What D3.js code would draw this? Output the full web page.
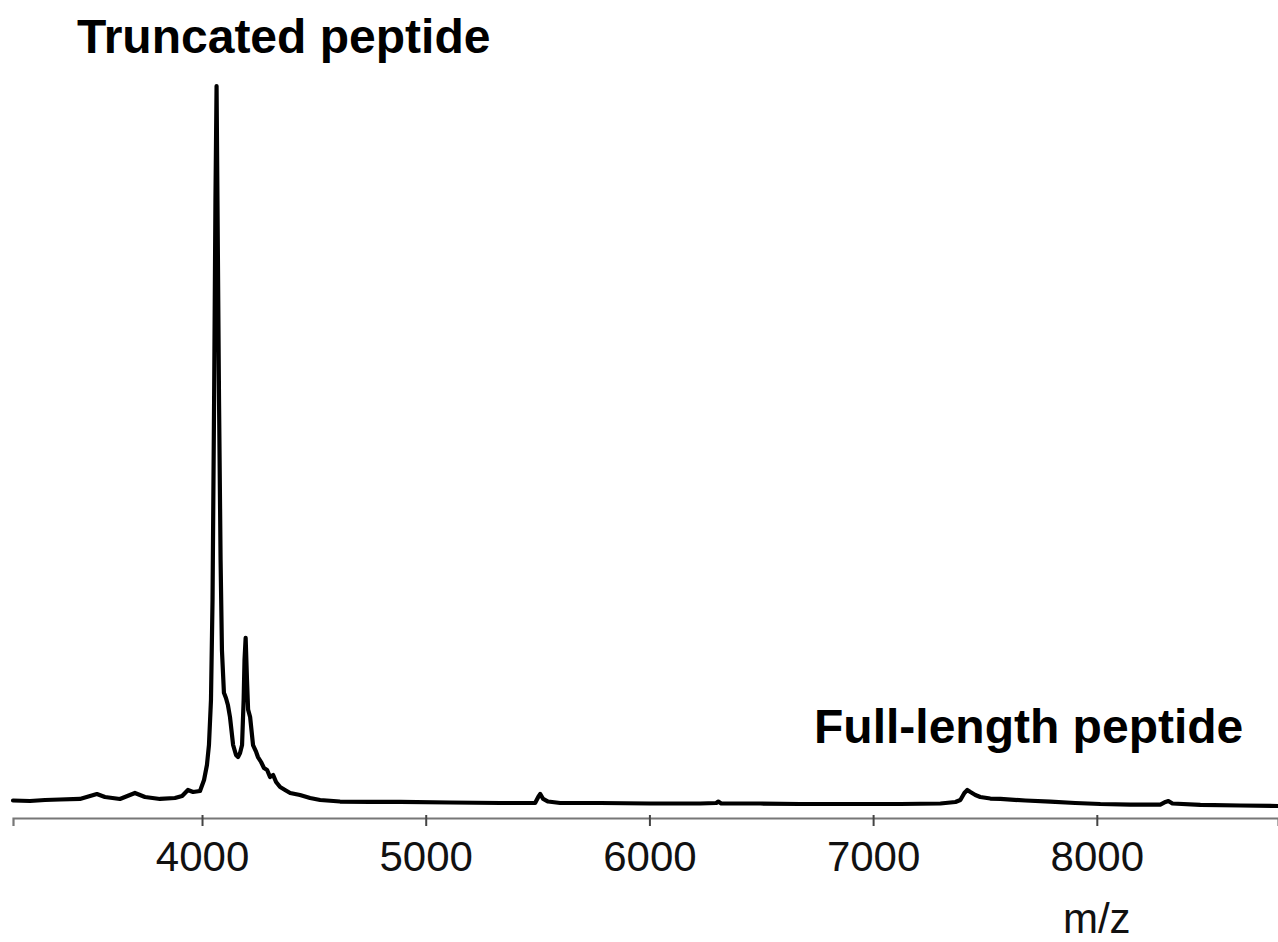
<!DOCTYPE html>
<html>
<head>
<meta charset="utf-8">
<script src="https://cdn.jsdelivr.net/npm/d3@7"></script>
<style>
  html, body { margin: 0; padding: 0; background: #fff; }
  svg { display: block; }
</style>
</head>
<body>
<svg id="chart" width="1278" height="942"></svg>
<script>
// m/z values of the trace
const mz = [3155,3231,3298,3365,3454,3530,3566,3633,3700,3745,3812,3879,3911,3937,3960,3991,
  4009,4022,4031,4040,4047,4054,4060,4065,4069,4076,4083,4089,4098,4107,4116,4125,4139,4152,4161,4170,4179,
  4186,4190,4195,4201,4206,4215,4228,4242,4250,4264,4277,4291,4304,4318,4331,4349,4371,4394,4438,4483,4528,
  4617,4751,4886,5109,5333,5489,5503,5512,5525,5547,5601,5780,6004,6227,6299,6308,6321,6496,6674,6898,7122,
  7301,7368,7390,7408,7421,7435,7457,7479,7524,7569,7681,7792,7904,8016,8150,8284,8307,8320,8338,8463,8642,8812];
// relative intensity (%)
const intensity = [2.39,2.32,2.46,2.53,2.60,3.28,2.87,2.60,3.42,2.87,2.60,2.73,3.01,3.83,3.55,3.69,
  5.19,7.24,9.97,16.1,29.8,57.1,84.4,100,84.4,57.1,35.2,22.95,17.1,16.4,15.4,13.8,9.97,8.61,8.33,8.88,9.97,
  16.1,21.6,24.6,18.9,14.8,13.8,9.97,9.02,8.33,7.65,6.83,6.56,5.60,5.87,4.92,4.23,3.83,3.42,3.14,2.73,2.46,
  2.25,2.19,2.19,2.12,2.05,2.05,2.87,3.28,2.60,2.25,2.05,2.05,1.98,1.98,2.05,2.25,1.98,1.98,1.91,1.91,1.91,
  1.98,2.19,2.46,3.42,3.83,3.55,3.14,2.87,2.66,2.60,2.39,2.25,2.05,1.91,1.84,1.84,2.19,2.32,1.98,1.78,1.71,1.64];
const tickValues = [4000, 5000, 6000, 7000, 8000];
const xDomain = [3155, 8810];
const annotations = [
  { text: "Truncated peptide", x: 77, y: 53 },
  { text: "Full-length peptide", x: 814, y: 743 }
];
const xLabel = "m/z";

const svg = d3.select("#chart");
const x = d3.scaleLinear().domain(xDomain).range([13, 1278]);
const y = d3.scaleLinear().domain([0, 100]).range([818, 86]);

const data = mz.map((m, i) => ({ m, v: intensity[i] }));

// axis
const axis = d3.axisBottom(x).tickValues(tickValues).tickSizeOuter(0).tickSize(8).tickFormat(d3.format("d"));
const gAxis = svg.append("g").attr("transform", "translate(0,818)").call(axis);
gAxis.select(".domain").attr("stroke", "#777").attr("stroke-width", 2.2);
gAxis.selectAll(".tick line").attr("stroke", "#444").attr("stroke-width", 2).attr("y1", -3).attr("y2", 8);
gAxis.selectAll(".tick text")
  .attr("fill", "#111")
  .attr("y", 53).attr("dy", null)
  .style("font-family", "'Liberation Sans', Arial, sans-serif")
  .style("font-size", "42px");

// trace
const line = d3.line().x(d => x(d.m)).y(d => y(d.v));
svg.append("path")
  .datum(data)
  .attr("d", line)
  .attr("fill", "none")
  .attr("stroke", "#000")
  .attr("stroke-width", 4.2)
  .attr("stroke-linejoin", "round")
  .attr("stroke-linecap", "round");

// annotations
svg.selectAll("text.ann").data(annotations).enter().append("text")
  .attr("class", "ann")
  .attr("x", d => d.x).attr("y", d => d.y)
  .attr("fill", "#000")
  .style("font-family", "'Liberation Sans', Arial, sans-serif")
  .style("font-weight", "bold")
  .style("font-size", "48px")
  .text(d => d.text);

svg.append("text")
  .attr("x", x(8000)).attr("y", 933)
  .attr("text-anchor", "middle")
  .attr("fill", "#111")
  .style("font-family", "'Liberation Sans', Arial, sans-serif")
  .style("font-size", "42px")
  .text(xLabel);
</script>
</body>
</html>
